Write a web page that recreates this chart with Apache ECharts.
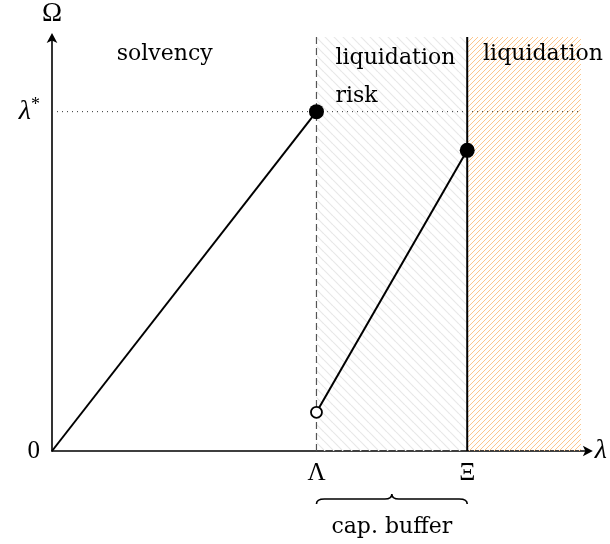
<!DOCTYPE html>
<html>
<head>
<meta charset="utf-8">
<script src="https://cdn.jsdelivr.net/npm/echarts@6/dist/echarts.min.js"></script>
<style>
html,body{margin:0;padding:0;background:#fff;}
#main{width:610px;height:544px;}
</style>
</head>
<body>
<div id="main"></div>
<script>
// 数据
var xTickValues = [1, 1.57];
var xTickLabels = ['Λ', 'Ξ'];
var yTickValues = [0, 1];
var yTickLabels = ['0', 'λ*'];
var solvencyLine = [[0, 0], [1, 1]];
var riskLine = [[1, 0.114], [1.57, 0.886]];
var filledPoints = [[1, 1], [1.57, 0.886]];
var openPoints = [[1, 0.114]];
var lambdaStarLine = [[0, 1], [2.0, 1]];
var lambdaBound = [[1, 0], [1, 1.22]];
var xiBound = [[1.57, 0], [1.57, 1.22]];
var riskZone = [1, 1.57];
var liqZone = [1.57, 2.0];
var regionLabels = [
	[0.426, 1.17, 'solvency', 'center'],
	[1.072, 1.158, 'liquidation', 'left'],
	[1.072, 1.044, 'risk', 'left'],
	[1.63, 1.17, 'liquidation', 'left']
];

var FONT = 'Liberation Serif';
var TFONT = 'DejaVu Serif';
var FS = 25;
var TFS = 22;

// 斜线填充
function hatch(size, color, dir, lw) {
	var c = document.createElement('canvas');
	c.width = size; c.height = size;
	var g = c.getContext('2d');
	g.strokeStyle = color;
	g.lineWidth = lw;
	for (var k = -1; k <= 1; k++) {
		g.beginPath();
		if (dir > 0) {
			g.moveTo(k * size, size); g.lineTo(k * size + size, 0);
		} else {
			g.moveTo(k * size, 0); g.lineTo(k * size + size, size);
		}
		g.stroke();
	}
	return {image: c, repeat: 'repeat'};
}

var chart = echarts.init(document.getElementById('main'));
var option = {
	animation: false,
	grid: {left: 52, right: 20, top: 35, bottom: 93},
	xAxis: {
		type: 'value', min: 0, max: 2.03,
		splitLine: {show: false},
		axisTick: {show: false},
		axisLine: {show: true, onZero: false, symbol: ['none', 'arrow'], symbolSize: [8, 10], symbolOffset: [0, 4],
			lineStyle: {color: '#000', width: 1.6}},
		axisLabel: {customValues: xTickValues, margin: 10, color: '#000', fontSize: FS, fontFamily: FONT, rotate: 0,
			formatter: function (v) { return xTickLabels[xTickValues.indexOf(v)] || ''; }},
		name: 'λ', nameLocation: 'end', nameGap: 6,
		nameTextStyle: {color: '#000', fontSize: 28, fontFamily: FONT, fontStyle: 'italic'}
	},
	yAxis: {
		type: 'value', min: 0, max: 1.22,
		splitLine: {show: false},
		axisTick: {show: false},
		axisLine: {show: true, onZero: false, symbol: ['none', 'arrow'], symbolSize: [8, 10], symbolOffset: [0, 4],
			lineStyle: {color: '#000', width: 1.6}},
		axisLabel: {customValues: yTickValues, margin: 12, color: '#000', fontSize: FS, fontFamily: FONT,
			formatter: function (v) {
				var s = yTickLabels[yTickValues.indexOf(v)] || '';
				return s === 'λ*' ? '{a|λ}{s|*}' : s;
			},
			rich: {a: {fontSize: 28, fontFamily: FONT, fontStyle: 'italic', color: '#000'},
				s: {fontSize: 18, fontFamily: FONT, color: '#000', padding: [0, 0, 12, 0]}}
		},
		name: 'Ω', nameLocation: 'end', nameGap: 10,
		nameTextStyle: {color: '#000', fontSize: 27, fontFamily: FONT}
	},
	series: [
		{
			type: 'line', data: [], z: 1,
			markArea: {
				silent: true,
				data: [
					[{xAxis: riskZone[0], yAxis: 0, itemStyle: {color: hatch(9, '#e8e8e8', -1, 1.2)}},
						{xAxis: riskZone[1], yAxis: 1.22}],
					[{xAxis: liqZone[0], yAxis: 0, itemStyle: {color: hatch(5, '#fcc68c', 1, 1)}},
						{xAxis: liqZone[1], yAxis: 1.22}]
				]
			}
		},
		{type: 'line', data: lambdaStarLine, symbol: 'none', z: 2,
			lineStyle: {color: '#333', width: 1, type: [1, 4]}},
		{type: 'line', data: lambdaBound, symbol: 'none', z: 2,
			lineStyle: {color: '#555', width: 1.2, type: [7, 4]}},
		{type: 'line', data: xiBound, symbol: 'none', z: 3,
			lineStyle: {color: '#000', width: 2}},
		{type: 'line', data: solvencyLine, symbol: 'none', z: 3,
			lineStyle: {color: '#000', width: 2}},
		{type: 'line', data: riskLine, symbol: 'none', z: 3,
			lineStyle: {color: '#000', width: 2}},
		{type: 'scatter', data: filledPoints, symbolSize: 15, z: 4,
			itemStyle: {color: '#000', opacity: 1}},
		{type: 'scatter', data: openPoints, symbolSize: 11, z: 4,
			itemStyle: {color: '#fff', borderColor: '#000', borderWidth: 1.8, opacity: 1}},
		// 区域文字
		{
			type: 'custom', data: regionLabels, z: 5, silent: true,
			renderItem: function (params, api) {
				var d = regionLabels[params.dataIndex];
				var p = api.coord([d[0], d[1]]);
				return {type: 'text', x: p[0], y: p[1],
					style: {text: d[2], align: d[3], verticalAlign: 'middle', fill: '#000', fontSize: TFS, fontFamily: TFONT}};
			}
		},
		// 大括号 cap. buffer
		{
			type: 'custom', data: [riskZone], z: 5, silent: true, clip: false,
			renderItem: function (params, api) {
				var a = api.coord([riskZone[0], 0]), b = api.coord([riskZone[1], 0]);
				var y = a[1] + 48, xm = (a[0] + b[0]) / 2;
				var path = 'M' + a[0] + ',' + (y + 5) + ' Q' + a[0] + ',' + y + ' ' + (a[0] + 8) + ',' + y +
					' L' + (xm - 7) + ',' + y + ' Q' + xm + ',' + y + ' ' + xm + ',' + (y - 5) +
					' Q' + xm + ',' + y + ' ' + (xm + 7) + ',' + y +
					' L' + (b[0] - 8) + ',' + y + ' Q' + b[0] + ',' + y + ' ' + b[0] + ',' + (y + 5);
				return {type: 'group', children: [
					{type: 'path', shape: {pathData: path}, style: {fill: null, stroke: '#000', lineWidth: 1.6}},
					{type: 'text', x: xm, y: y + 28,
						style: {text: 'cap. buffer', align: 'center', verticalAlign: 'middle', fill: '#000', fontSize: TFS, fontFamily: TFONT}}
				]};
			}
		}
	]
};
chart.setOption(option);
</script>
</body>
</html>
